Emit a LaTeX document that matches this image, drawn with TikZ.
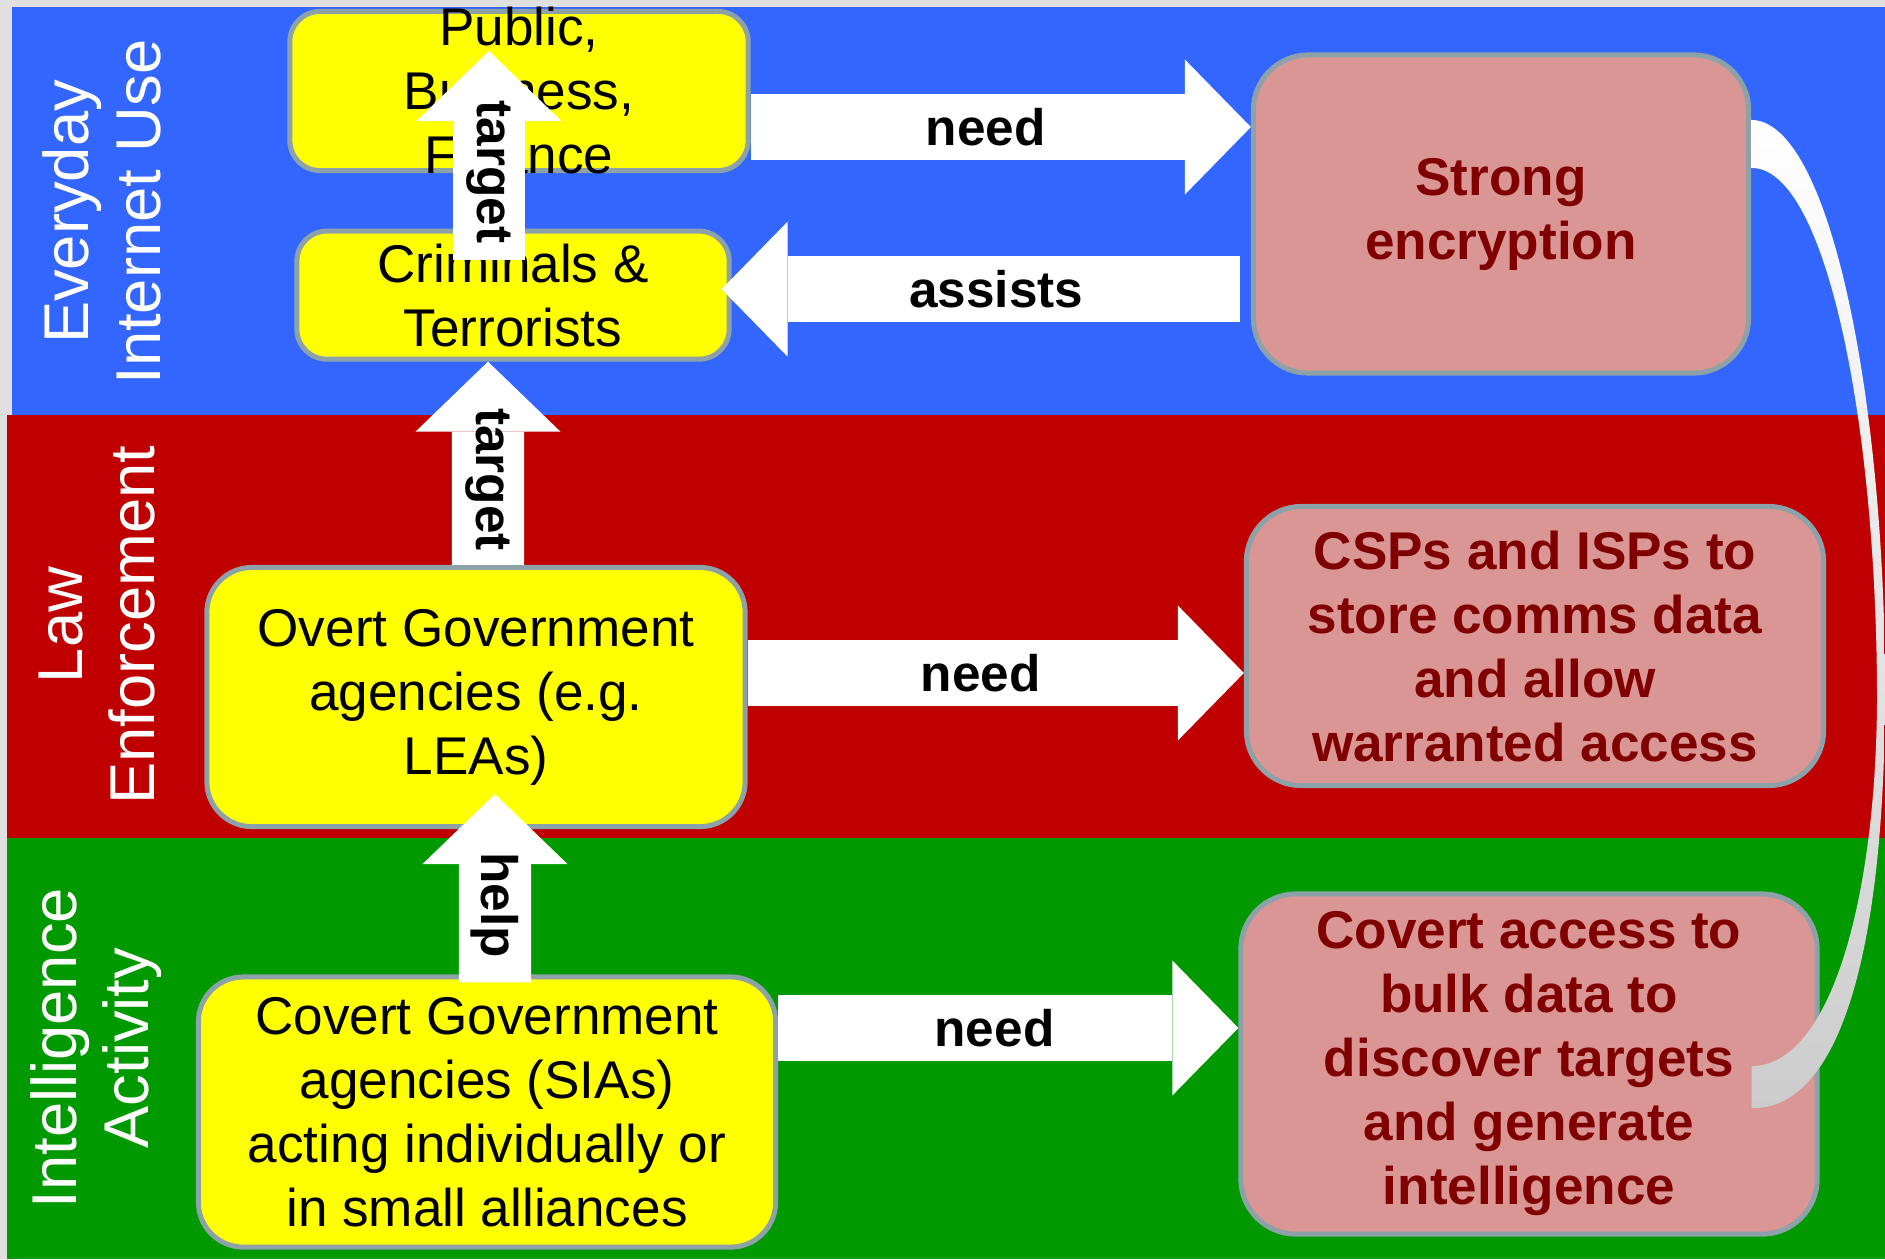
\documentclass[tikz,border=0pt]{standalone}
\usepackage{fontspec}
\setmainfont{Liberation Sans}
\usetikzlibrary{shapes,arrows}
\usetikzlibrary{arrows.meta,positioning}

\definecolor{lanegrey}{RGB}{224,224,224}
\definecolor{laneblue}{RGB}{51,102,255}
\definecolor{lanered}{RGB}{192,0,0}
\definecolor{lanegreen}{RGB}{0,153,0}
\definecolor{actoryellow}{RGB}{255,255,0}
\definecolor{needpink}{RGB}{217,150,148}
\definecolor{boxedge}{RGB}{140,162,168}
\definecolor{needtext}{RGB}{128,0,0}

\begin{document}
\begin{tikzpicture}[x=0.01cm, y=-0.01cm, node distance=2cm]
    \tikzstyle{actor} = [rectangle, draw=boxedge, line width=0.05cm, fill=actoryellow,
    align=center, rounded corners=0.45cm, inner sep=0pt,
    font=\fontsize{15.1}{18.2}\selectfont]
\tikzstyle{need} = [actor, fill=needpink, text=needtext, rounded corners=0.55cm,
    font=\fontsize{15.1}{18.2}\selectfont\bfseries]
\tikzstyle{lane} = [white, align=center, rotate=90,
    font=\fontsize{18}{20.5}\selectfont]
\tikzstyle{fat} = [draw=white, line width=0.66cm,
    -{Triangle[length=0.66cm, width=1.35cm, line width=0pt]}]
\tikzstyle{tall} = [draw=white, line width=0.72cm,
    -{Triangle[length=0.7cm, width=1.45cm, line width=0pt]}]
\tikzstyle{verb} = [text=black, font=\fontsize{14.6}{17}\selectfont\bfseries]

    \useasboundingbox (0,0) rectangle (1885,1259);
    % Lanes
    \fill[lanegrey] (0,0) rectangle (1885,1259);
    \fill[laneblue] (12,7) rectangle (1885,415);
    \fill[lanered] (7,415) rectangle (1885,838);
    \fill[lanegreen] (7,838) rectangle (1885,1259);
    \node [lane] (everyday) at (102,212) {Everyday\\Internet Use};
    \node [lane] (law) at (97,625) {Law\\Enforcement};
    \node [lane] (intel) at (96,1048) {Intelligence\\Activity};
    % Place nodes
    \node [actor, rounded corners=0.3cm, minimum width=4.58cm] (public) at (519,91)
        {\parbox[c][1.59cm][c]{4.4cm}{\centering Public,\\ Business,\\ Finance}};
    \node [actor, rounded corners=0.3cm, minimum width=4.32cm, minimum height=1.28cm,
        below of=public, node distance=2.04cm, xshift=-0.06cm] (criminals) {Criminals \&\\Terrorists};
    \node [actor, minimum width=5.38cm, minimum height=2.59cm] (overt) at (476,697)
        {Overt Government\\agencies (e.g.\\LEAs)};
    \node [actor, minimum width=5.77cm, minimum height=2.70cm] (covgov) at (487,1112)
        {Covert Government\\agencies (SIAs)\\acting individually or\\in small alliances};
    \node [need, minimum width=4.95cm, minimum height=3.18cm] (strong) at (1501,214)
        {Strong\\encryption};
    \node [need, minimum width=5.77cm, minimum height=2.79cm] (csps) at (1535,646)
        {CSPs and ISPs to\\store comms data\\and allow\\warranted access};
    \node [need, minimum width=5.76cm, minimum height=3.40cm] (covacc) at (1529,1064)
        {Covert access to\\bulk data to\\discover targets\\and generate\\intelligence};
    % Draw edges
    \draw [fat] ([yshift=-0.36cm]public.east) -- ([yshift=-0.36cm]public.east -| strong.west)
        node [verb, pos=0.47] {need};
    \draw [fat] ([xshift=-0.11cm, yshift=0.06cm]criminals.east -| strong.west)
        -- ([xshift=-0.1cm, yshift=0.06cm]criminals.east)
        node [verb, pos=0.47] {assists};
    \draw [fat] ([yshift=0.24cm]overt.east) -- ([yshift=0.24cm]overt.east -| csps.west)
        node [verb, pos=0.47] {need};
    \draw [fat] ([yshift=0.84cm]covgov.east) -- ([yshift=0.84cm]covgov.east -| covacc.west)
        node [verb, pos=0.47] {need};
    \draw [tall] ([xshift=-0.24cm, yshift=-0.31cm]criminals.north)
        -- ([xshift=-0.3cm, yshift=-0.42cm]public.north)
        node [verb, rotate=-90, pos=0.42] {target};
    \draw [tall] ([xshift=0.12cm]overt.north) -- ([xshift=-0.25cm]criminals.south)
        node [verb, rotate=-90, pos=0.42] {target};
    \draw [tall] ([xshift=0.08cm, yshift=-0.08cm]covgov.north)
        -- ([xshift=0.19cm, yshift=0.35cm]overt.south)
        node [verb, rotate=-90, pos=0.41] {help};
    \shade [top color=white, bottom color=gray!40]
        ([yshift=0.94cm]strong.east) .. controls (1830,120) and (1885,400) .. (1885,690)
        .. controls (1885,950) and (1840,1110) .. ([xshift=-0.68cm, yshift=-0.44cm]covacc.east)
        -- ([xshift=-0.68cm, yshift=-0.02cm]covacc.east)
        .. controls (1830,1066) and (1876,900) .. (1877,700)
        .. controls (1877,420) and (1825,166) .. ([yshift=0.46cm]strong.east) -- cycle;
\end{tikzpicture}
\end{document}
